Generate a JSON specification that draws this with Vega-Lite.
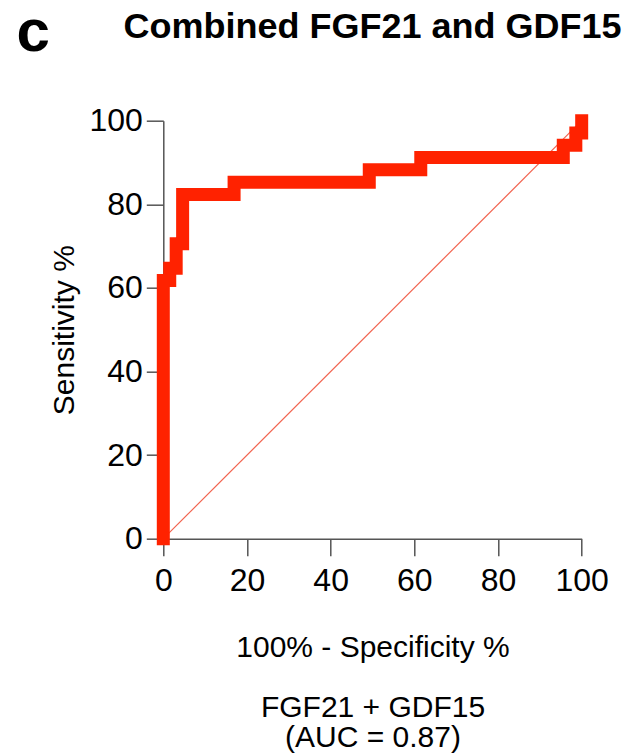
{
  "$schema": "https://vega.github.io/schema/vega-lite/v6.json",
  "autosize": {"type": "none"},
  "padding": {"left": 163.3, "top": 120.7, "right": 53, "bottom": 217},
  "width": 418.4,
  "height": 418,
  "background": "white",
  "title": {
    "text": "Combined FGF21 and GDF15",
    "font": "Liberation Sans",
    "fontWeight": "bold",
    "fontSize": 36,
    "color": "black",
    "anchor": "middle",
    "frame": "group",
    "baseline": "alphabetic",
    "offset": -71
  },
  "config": {
    "view": {"stroke": null},
    "axis": {
      "grid": false,
      "domainColor": "#555555",
      "domainWidth": 1.5,
      "tickColor": "#555555",
      "tickWidth": 1.5,
      "tickSize": 17,
      "labelFont": "Liberation Sans",
      "labelFontSize": 32,
      "labelColor": "black",
      "labelFlush": false,
      "labelOverlap": false,
      "titleFont": "Liberation Sans",
      "titleFontSize": 30,
      "titleFontWeight": "normal",
      "titleColor": "black"
    }
  },
  "datasets": {
    "roc": [
      {"i": 0, "fpr": 0, "sens": 0},
      {"i": 1, "fpr": 0, "sens": 61.76},
      {"i": 2, "fpr": 1.54, "sens": 61.76},
      {"i": 3, "fpr": 1.54, "sens": 64.71},
      {"i": 4, "fpr": 3.08, "sens": 64.71},
      {"i": 5, "fpr": 3.08, "sens": 70.59},
      {"i": 6, "fpr": 4.62, "sens": 70.59},
      {"i": 7, "fpr": 4.62, "sens": 82.35},
      {"i": 8, "fpr": 16.92, "sens": 82.35},
      {"i": 9, "fpr": 16.92, "sens": 85.29},
      {"i": 10, "fpr": 49.23, "sens": 85.29},
      {"i": 11, "fpr": 49.23, "sens": 88.24},
      {"i": 12, "fpr": 61.54, "sens": 88.24},
      {"i": 13, "fpr": 61.54, "sens": 91.18},
      {"i": 14, "fpr": 95.6, "sens": 91.18},
      {"i": 15, "fpr": 95.6, "sens": 94.12},
      {"i": 16, "fpr": 98.6, "sens": 94.12},
      {"i": 17, "fpr": 98.6, "sens": 97.06},
      {"i": 18, "fpr": 100, "sens": 97.06},
      {"i": 19, "fpr": 100, "sens": 100}
    ],
    "diag": [
      {"i": 0, "fpr": 0, "sens": 0},
      {"i": 1, "fpr": 100, "sens": 100}
    ],
    "panel": [{"label": "c", "px": -31.1, "py": 116.7}]
  },
  "layer": [
    {
      "data": {"name": "diag"},
      "mark": {"type": "line", "stroke": "#f26450", "color": "#f26450", "strokeWidth": 1.2},
      "encoding": {
        "x": {
          "field": "fpr", "type": "quantitative",
          "scale": {"domain": [0, 100], "nice": false, "zero": false},
          "axis": {
            "values": [0, 20, 40, 60, 80, 100],
            "labelPadding": 10,
            "title": ["100% - Specificity %", "\u2800", "FGF21 + GDF15", "(AUC = 0.87)"],
            "titleLineHeight": 30,
            "titlePadding": 36
          }
        },
        "y": {
          "field": "sens", "type": "quantitative",
          "scale": {"domain": [0, 100], "nice": false, "zero": false},
          "axis": {
            "values": [0, 20, 40, 60, 80, 100],
            "labelPadding": 4,
            "title": "Sensitivity %",
            "titlePadding": 9
          }
        },
        "order": {"field": "i"}
      }
    },
    {
      "data": {"name": "roc"},
      "mark": {"type": "line", "color": "#ff2200", "strokeWidth": 13, "strokeCap": "square", "strokeJoin": "miter"},
      "encoding": {
        "x": {"field": "fpr", "type": "quantitative"},
        "y": {"field": "sens", "type": "quantitative"},
        "order": {"field": "i"}
      }
    },
    {
      "data": {"name": "panel"},
      "mark": {"type": "text", "font": "Liberation Sans", "fontWeight": "bold", "fontSize": 60, "color": "black", "align": "center", "baseline": "alphabetic"},
      "encoding": {
        "x": {"field": "px", "type": "quantitative"},
        "y": {"field": "py", "type": "quantitative"},
        "text": {"field": "label"}
      }
    }
  ]
}
